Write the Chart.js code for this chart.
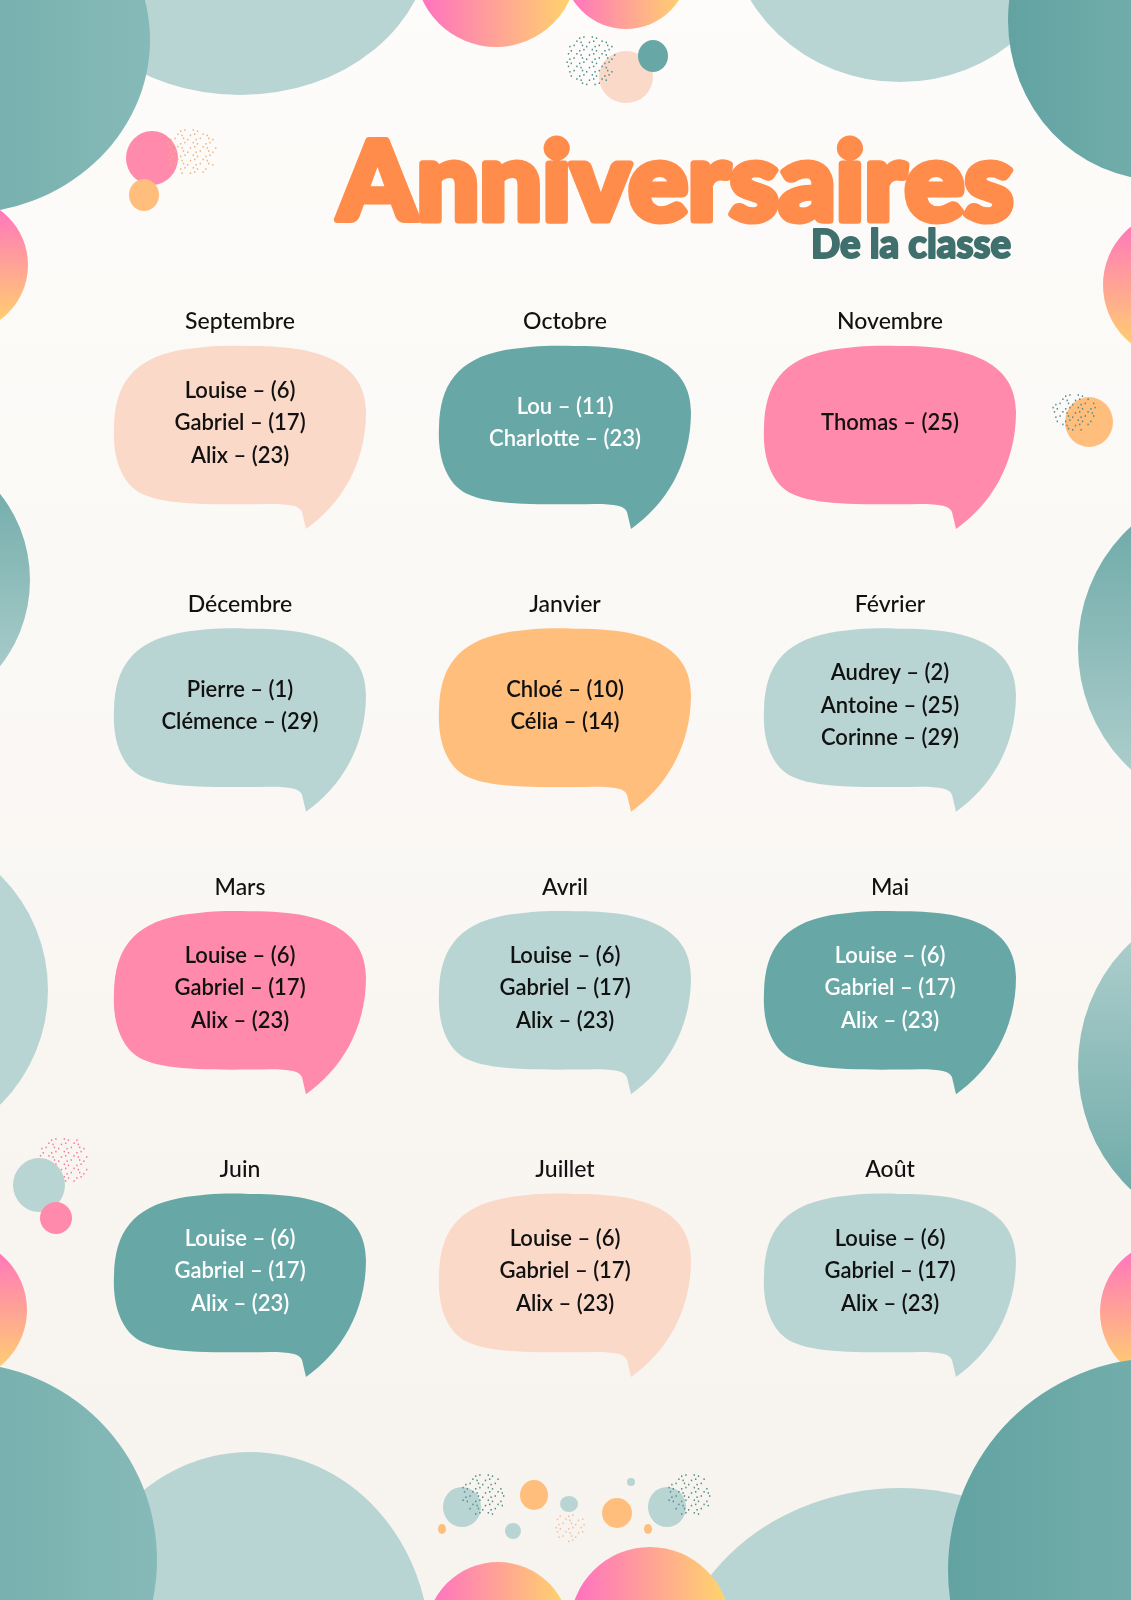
<!DOCTYPE html>
<html lang="fr">
<head>
<meta charset="utf-8">
<title>Anniversaires de la classe</title>
<script src="https://cdn.jsdelivr.net/npm/chart.js@4.4.1/dist/chart.umd.min.js"></script>
<style>
  html, body { margin: 0; padding: 0; background: #faf8f4; }
  #wrap { position: relative; width: 1131px; height: 1600px; }
</style>
</head>
<body>
<div id="wrap"><canvas id="poster"></canvas></div>
<script>
// Months in school-year order, read left to right, top to bottom
const months = ['Septembre', 'Octobre', 'Novembre', 'Décembre', 'Janvier', 'Février',
                'Mars', 'Avril', 'Mai', 'Juin', 'Juillet', 'Août'];

// Pupils per month and their birthday (day of the month)
const names = [
  ['Louise', 'Gabriel', 'Alix'],
  ['Lou', 'Charlotte'],
  ['Thomas'],
  ['Pierre', 'Clémence'],
  ['Chloé', 'Célia'],
  ['Audrey', 'Antoine', 'Corinne'],
  ['Louise', 'Gabriel', 'Alix'],
  ['Louise', 'Gabriel', 'Alix'],
  ['Louise', 'Gabriel', 'Alix'],
  ['Louise', 'Gabriel', 'Alix'],
  ['Louise', 'Gabriel', 'Alix'],
  ['Louise', 'Gabriel', 'Alix']
];
const days = [
  [6, 17, 23], [11, 23], [25],
  [1, 29], [10, 14], [2, 25, 29],
  [6, 17, 23], [6, 17, 23], [6, 17, 23],
  [6, 17, 23], [6, 17, 23], [6, 17, 23]
];

// Bubble colours (peach, teal, pink, light, orange)
const PEACH = '#fad9c8', TEAL = '#67a8a6', PINK = '#ff8aab', LIGHT = '#b9d5d3', ORANGE = '#ffbe7c';
const bubbleColors = [PEACH, TEAL, PINK, LIGHT, ORANGE, LIGHT, PINK, LIGHT, TEAL, TEAL, PEACH, LIGHT];

// Decorative shapes around the edges (pixels): [x, y, rx, ry, fill]
// fill: colour string, 'tealH' / 'tealDown' / 'tealUp' / 'warmH' / 'warmV' gradients, or 'dots:<colour>'
const decor = [
  [240, -60, 190, 155, LIGHT],
  [-40, 40, 190, 174, 'tealH'],
  [900, -80, 172, 162, LIGHT],
  [1160, 20, 152, 160, 'tealH'],
  [496, -34, 81, 81, 'warmH'],
  [626, -34, 63, 63, 'warmH'],
  [626, 77, 27, 26, PEACH],
  [590, 58, 25, 26, 'dots:#4f8e8c'],
  [653, 56, 15, 16, TEAL],
  [152, 158, 26, 27, PINK],
  [191, 150, 25, 25, 'dots:#f0b27a'],
  [144, 195, 15, 16, ORANGE],
  [-40, 265, 68, 68, 'warmV'],
  [-100, 580, 130, 135, 'tealDown'],
  [-110, 990, 158, 160, LIGHT],
  [63, 1159, 26, 25, 'dots:#f47aa0'],
  [39, 1185, 26, 27, LIGHT],
  [56, 1218, 16, 16, PINK],
  [-45, 1310, 72, 72, 'warmV'],
  [1178, 285, 75, 75, 'warmV'],
  [1089, 422, 24, 25, ORANGE],
  [1073, 410, 22, 20, 'dots:#4f8e8c'],
  [1230, 648, 152, 160, 'tealDown'],
  [1230, 1066, 152, 163, 'tealUp'],
  [1172, 1312, 72, 72, 'warmV'],
  [250, 1650, 180, 198, LIGHT],
  [-40, 1560, 197, 197, 'tealH'],
  [900, 1690, 230, 202, LIGHT],
  [1160, 1570, 212, 212, 'tealH'],
  [498, 1634, 72, 72, 'warmH'],
  [650, 1627, 80, 80, 'warmH'],
  [462, 1507, 19, 20, LIGHT],
  [483, 1492, 22, 22, 'dots:#4f8e8c'],
  [534, 1495, 14, 15, ORANGE],
  [569, 1504, 9, 8, LIGHT],
  [617, 1513, 15, 15, ORANGE],
  [667, 1507, 19, 20, LIGHT],
  [689, 1492, 22, 22, 'dots:#4f8e8c'],
  [442, 1529, 4, 5, ORANGE],
  [648, 1529, 4, 5, ORANGE],
  [513, 1531, 8, 8, LIGHT],
  [569, 1525, 15, 15, 'dots:#f0c0a0'],
  [631, 1482, 4, 4, LIGHT]
];

function shapeFill(ctx, x, y, rx, ry, fill) {
  let g;
  switch (fill) {
    case 'tealH':
      g = ctx.createLinearGradient(x - rx, 0, x + rx, 0);
      g.addColorStop(0, '#62a3a1'); g.addColorStop(1, '#86bab8');
      return g;
    case 'tealDown':
      g = ctx.createLinearGradient(0, y - ry, 0, y + ry);
      g.addColorStop(0, '#68a7a5'); g.addColorStop(1, '#b4d2d0');
      return g;
    case 'tealUp':
      g = ctx.createLinearGradient(0, y - ry, 0, y + ry);
      g.addColorStop(0, '#b4d2d0'); g.addColorStop(1, '#68a7a5');
      return g;
    case 'warmH':
      g = ctx.createLinearGradient(x - rx, 0, x + rx, 0);
      g.addColorStop(0, '#ff6ec4'); g.addColorStop(1, '#ffd768');
      return g;
    case 'warmV':
      g = ctx.createLinearGradient(0, y - ry, 0, y + ry);
      g.addColorStop(0, '#ff6ec4'); g.addColorStop(1, '#ffd768');
      return g;
    default:
      return fill;
  }
}

// speckled disc: staggered rows of tiny dots, every other one skipped
function drawDots(ctx, x, y, rx, ry, color) {
  ctx.fillStyle = color;
  const step = 4.2;
  let row = 0;
  for (let dy = -ry; dy <= ry; dy += step, row++) {
    const off = (row % 3) * step / 3;
    let col = 0;
    for (let dx = -rx + off; dx <= rx; dx += step, col++) {
      if ((dx * dx) / (rx * rx) + (dy * dy) / (ry * ry) > 1) continue;
      if ((row + col) % 3 === 0) continue;
      ctx.fillRect(x + dx, y + dy + (col % 2) * 1.2, 1.4, 1.6);
    }
  }
}

const backdrop = {
  id: 'backdrop',
  beforeDraw(chart) {
    const ctx = chart.ctx;
    const W = chart.width, H = chart.height;
    ctx.save();
    const bg = ctx.createLinearGradient(0, 0, 0, H);
    bg.addColorStop(0, '#fdfcfa');
    bg.addColorStop(1, '#f7f3ee');
    ctx.fillStyle = bg;
    ctx.fillRect(0, 0, W, H);

    decor.forEach(([x, y, rx, ry, fill]) => {
      if (fill.startsWith('dots:')) {
        drawDots(ctx, x, y, rx, ry, fill.slice(5));
        return;
      }
      ctx.beginPath();
      ctx.ellipse(x, y, rx, ry, 0, 0, Math.PI * 2);
      ctx.fillStyle = shapeFill(ctx, x, y, rx, ry, fill);
      ctx.fill();
    });

    // Title, squeezed to the width it takes on the poster
    const fitText = (text, font, color, right, base, width, stroke) => {
      ctx.font = font;
      const w = ctx.measureText(text).width + stroke;
      ctx.save();
      ctx.translate(right, base);
      ctx.scale(width / w, 1);
      ctx.textAlign = 'right';
      ctx.textBaseline = 'alphabetic';
      ctx.fillStyle = color;
      ctx.strokeStyle = color;
      ctx.lineJoin = 'round';
      ctx.lineWidth = stroke;
      ctx.strokeText(text, -stroke / 2, 0);
      ctx.fillText(text, -stroke / 2, 0);
      ctx.restore();
    };
    fitText('Anniversaires', '900 108px Lato', '#ff8c4a', 1017, 220, 682, 7);
    fitText('De la classe', '900 40px Lato', '#3f706d', 1012, 258, 202, 2);
    ctx.restore();
  }
};

function bubblePath(ctx, cx, cy) {
  ctx.beginPath();
  ctx.moveTo(cx + 9, cy - 79);
  ctx.bezierCurveTo(cx + 80, cy - 80, cx + 126, cy - 62, cx + 126, cy - 13);
  ctx.bezierCurveTo(cx + 126, cy + 40, cx + 100, cy + 80, cx + 66, cy + 104);
  ctx.lineTo(cx + 62, cy + 87);
  ctx.bezierCurveTo(cx + 60, cy + 81, cx + 50, cy + 79, cx + 30, cy + 79);
  ctx.bezierCurveTo(cx - 40, cy + 80, cx - 90, cy + 80, cx - 108, cy + 62);
  ctx.bezierCurveTo(cx - 124, cy + 46, cx - 127, cy + 22, cx - 126, cy + 2);
  ctx.bezierCurveTo(cx - 125, cy - 40, cx - 108, cy - 66, cx - 60, cy - 75);
  ctx.bezierCurveTo(cx - 35, cy - 79, cx - 15, cy - 80, cx + 9, cy - 79);
  ctx.closePath();
}

const speechBubbles = {
  id: 'speechBubbles',
  afterDatasetsDraw(chart) {
    const ctx = chart.ctx;
    const meta = chart.getDatasetMeta(0);
    ctx.save();
    ctx.textAlign = 'center';
    ctx.textBaseline = 'middle';
    meta.data.forEach((pt, i) => {
      const cx = pt.x, cy = pt.y;
      const fill = bubbleColors[i];
      bubblePath(ctx, cx, cy);
      ctx.fillStyle = fill;
      ctx.fill();

      ctx.fillStyle = '#111111';
      ctx.font = '500 23px Lato';
      ctx.fillText(months[i], cx, cy - 103);

      const lines = names[i].map((n, k) => `${n} – (${days[i][k]})`);
      ctx.fillStyle = fill === TEAL ? '#ffffff' : '#111111';
      ctx.font = '600 22px Lato';
      const gap = 32.5;
      const top = cy - 2 - gap * (lines.length - 1) / 2;
      lines.forEach((t, k) => ctx.fillText(t, cx, top + gap * k));
    });
    ctx.restore();
  }
};

Chart.defaults.font.family = 'Lato, "Open Sans", sans-serif';

new Chart(document.getElementById('poster'), {
  type: 'scatter',
  data: {
    datasets: [{
      data: months.map((m, i) => ({ x: i % 3 + 1, y: Math.floor(i / 3) + 1 })),
      pointRadius: 0,
      pointHoverRadius: 0
    }]
  },
  options: {
    responsive: true,
    maintainAspectRatio: false,
    animation: false,
    events: [],
    layout: { padding: { left: 77.5, right: 78.5, top: 283.7, bottom: 185.7 } },
    scales: {
      x: { type: 'linear', min: 0.5, max: 3.5, display: false },
      y: { type: 'linear', min: 0.5, max: 4.5, reverse: true, display: false }
    },
    plugins: {
      legend: { display: false },
      tooltip: { enabled: false }
    }
  },
  plugins: [backdrop, speechBubbles]
});
</script>
</body>
</html>
